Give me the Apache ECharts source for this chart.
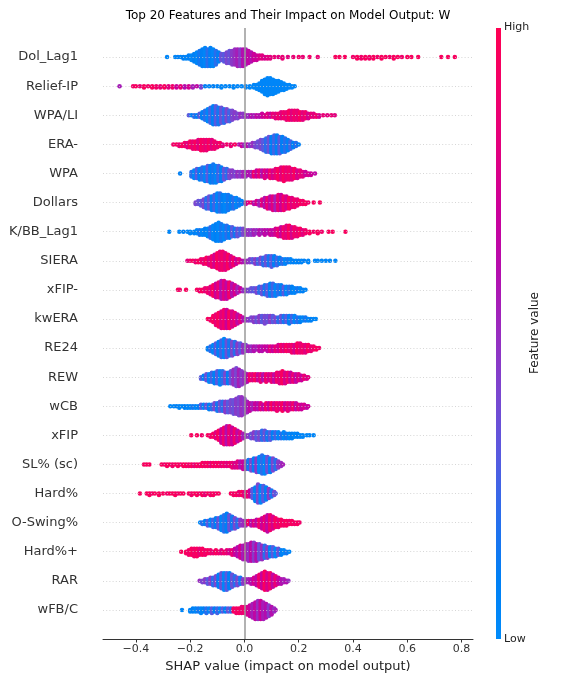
<!DOCTYPE html>
<html><head><meta charset="utf-8">
<script src="https://cdn.jsdelivr.net/npm/echarts@6/dist/echarts.min.js"></script>
<style>html,body{margin:0;padding:0;background:#fff}#c{width:576px;height:684px}</style>
</head><body><div id="c"></div>
<script>
const titleText = 'Top 20 Features and Their Impact on Model Output: W';
const features = ['Dol_Lag1','Relief-IP','WPA/LI','ERA-','WPA','Dollars','K/BB_Lag1','SIERA','xFIP-','kwERA','RE24','REW','wCB','xFIP','SL% (sc)','Hard%','O-Swing%','Hard%+','RAR','wFB/C'];
const xTicks = [-0.4,-0.2,0,0.2,0.4,0.6,0.8];
const xTickLabels = ['\u22120.4','\u22120.2','0.0','0.2','0.4','0.6','0.8'];

// Each entry: [SHAP value, feature value (0 = low, 1 = high), number of samples read at that SHAP value]
const dolLag1 = [[-0.285,0.05,1],[-0.255,0.05,1],[-0.245,0.1,1],[-0.235,0.05,1],[-0.225,0.1,2],[-0.215,0.05,2],[-0.205,0.1,3],[-0.195,0.05,4],
[-0.185,0.1,6],[-0.175,0.05,8],[-0.165,0.15,10],[-0.155,0.1,12],[-0.145,0.05,13],[-0.135,0.2,12],[-0.125,0.1,13],[-0.115,0.05,12],[-0.105,0.2,10],[-0.095,0.1,7],
[-0.085,0.35,5],[-0.075,0.3,6],[-0.065,0.4,8],[-0.055,0.35,9],[-0.045,0.45,10],[-0.035,0.5,11],[-0.025,0.55,12],[-0.015,0.45,12],[-0.005,0.6,12],[0.005,0.55,11],[0.015,0.65,9],[0.025,0.6,7],[0.035,0.7,5],
[0.045,0.7,4],[0.055,0.75,3],[0.065,0.8,3],[0.075,0.75,2],[0.085,0.8,2],[0.095,0.8,2],[0.11,0.85,1],[0.125,0.8,1],[0.14,0.85,2],[0.16,0.8,1],[0.18,0.85,1],[0.2,0.9,1],[0.215,0.85,1],[0.24,0.9,1],[0.27,0.85,1],
[0.335,0.95,1],[0.35,0.95,1],[0.37,0.95,1],
[0.4,0.9,1],[0.415,0.95,2],[0.43,0.9,2],[0.445,0.95,2],[0.46,0.9,2],[0.475,0.95,2],[0.49,0.9,1],[0.505,0.95,2],[0.52,0.95,1],[0.535,0.9,1],[0.55,0.95,2],[0.565,0.95,1],[0.58,0.9,1],[0.6,0.95,1],[0.615,0.95,1],[0.64,0.95,1],
[0.725,0.95,1],[0.75,0.95,1],[0.775,0.95,1]];

const reliefIP = [[-0.46,0.55,1],
[-0.41,0.9,1],[-0.40,0.95,1],[-0.385,0.85,1],[-0.37,0.95,2],[-0.355,0.9,1],[-0.34,0.95,2],[-0.325,0.9,2],[-0.31,0.85,2],[-0.295,0.95,2],[-0.28,0.8,2],[-0.265,0.9,2],[-0.25,0.7,2],[-0.235,0.85,2],[-0.22,0.6,2],[-0.205,0.75,2],[-0.19,0.55,2],[-0.175,0.65,1],[-0.16,0.4,2],
[-0.145,0.1,1],[-0.13,0.05,1],[-0.115,0.1,1],[-0.10,0.05,1],[-0.085,0.05,2],[-0.07,0.05,1],[-0.055,0.05,1],[-0.04,0.05,2],[-0.025,0.05,1],[-0.01,0.05,1],[0.005,0.05,2],[0.02,0.05,2],
[0.035,0.05,3],[0.045,0.05,4],[0.055,0.05,6],[0.065,0.05,9],[0.075,0.05,12],[0.085,0.05,14],[0.095,0.05,13],[0.105,0.05,12],[0.115,0.05,10],[0.125,0.05,9],[0.135,0.05,7],[0.145,0.05,6],[0.155,0.05,4],[0.165,0.05,3],[0.175,0.05,2],[0.185,0.05,1]];

const wpaLI = [[-0.205,0.3,1],[-0.195,0.1,1],[-0.185,0.2,2],[-0.175,0.1,2],[-0.165,0.3,3],
[-0.155,0.1,5],[-0.145,0.2,7],[-0.135,0.05,9],[-0.125,0.25,11],[-0.115,0.1,13],[-0.105,0.3,13],[-0.095,0.15,12],[-0.085,0.35,11],[-0.075,0.2,10],[-0.065,0.4,9],[-0.055,0.25,8],[-0.045,0.4,7],[-0.035,0.45,5],[-0.025,0.4,4],[-0.015,0.5,3],[-0.005,0.45,3],
[0.005,0.55,2],[0.015,0.5,2],[0.025,0.6,2],[0.035,0.55,2],[0.045,0.65,2],[0.055,0.6,2],[0.065,0.7,3],[0.075,0.75,2],[0.085,0.8,3],[0.095,0.7,3],[0.105,0.85,3],
[0.115,0.8,4],[0.125,0.9,4],[0.135,0.8,5],[0.145,0.9,5],[0.155,0.85,6],[0.165,0.95,7],[0.175,0.8,7],[0.185,0.9,7],[0.195,0.85,7],[0.205,0.95,6],[0.215,0.8,6],[0.225,0.9,5],[0.235,0.75,4],[0.245,0.85,3],[0.255,0.8,3],[0.265,0.9,2],[0.275,0.75,2],[0.29,0.85,1],[0.305,0.8,1],[0.32,0.85,1],[0.333,0.8,1]];

const eraMinus = [[-0.262,0.9,1],[-0.25,0.95,1],[-0.24,0.85,2],[-0.23,0.95,2],
[-0.22,0.9,3],[-0.21,0.8,4],[-0.20,0.95,5],[-0.19,0.85,6],[-0.18,0.95,6],[-0.17,0.8,7],[-0.16,0.95,8],[-0.15,0.9,8],[-0.14,0.85,8],[-0.13,0.95,7],[-0.12,0.8,7],[-0.11,0.9,6],[-0.10,0.85,4],[-0.09,0.95,3],[-0.08,0.8,2],
[-0.065,0.9,1],[-0.05,0.85,2],[-0.035,0.95,1],[-0.02,0.6,1],[-0.01,0.7,2],[0.0,0.5,2],[0.01,0.6,2],[0.02,0.45,2],[0.03,0.5,3],
[0.04,0.4,4],[0.05,0.35,5],[0.06,0.4,7],[0.07,0.3,8],[0.08,0.2,10],[0.09,0.35,11],[0.10,0.1,12],[0.11,0.25,13],[0.12,0.1,13],[0.13,0.3,12],[0.14,0.1,11],[0.15,0.2,10],[0.16,0.1,8],[0.17,0.25,6],[0.18,0.1,4],[0.19,0.2,3],[0.20,0.1,1]];

const wpa = [[-0.237,0.1,1],
[-0.195,0.2,4],[-0.185,0.05,6],[-0.175,0.3,7],[-0.165,0.1,8],[-0.155,0.2,9],[-0.145,0.05,10],[-0.135,0.3,11],[-0.125,0.1,12],[-0.115,0.15,13],[-0.105,0.05,12],[-0.095,0.25,11],[-0.085,0.1,10],[-0.075,0.35,8],[-0.065,0.2,7],[-0.055,0.4,6],
[-0.045,0.45,5],[-0.035,0.4,4],[-0.025,0.5,4],[-0.015,0.45,4],[-0.005,0.55,4],[0.005,0.5,4],[0.015,0.6,3],[0.025,0.55,4],
[0.035,0.9,4],[0.045,0.7,5],[0.055,0.85,5],[0.065,0.6,5],[0.075,0.8,6],[0.085,0.7,5],[0.095,0.9,6],[0.105,0.75,6],[0.115,0.85,7],[0.125,0.95,8],[0.135,0.8,9],[0.145,0.95,10],[0.155,0.85,9],[0.165,0.9,9],[0.175,0.8,8],[0.185,0.95,7],[0.195,0.75,6],[0.205,0.85,5],[0.215,0.8,4],[0.225,0.7,3],[0.235,0.75,2],[0.245,0.7,2],[0.26,0.65,1]];

const dollars = [[-0.18,0.4,2],[-0.17,0.35,3],[-0.16,0.3,4],[-0.15,0.4,6],[-0.14,0.2,8],[-0.13,0.35,9],[-0.12,0.1,10],[-0.11,0.25,11],[-0.10,0.05,13],[-0.09,0.2,13],[-0.08,0.1,12],[-0.07,0.05,12],[-0.06,0.15,11],[-0.05,0.1,9],[-0.04,0.2,8],[-0.03,0.05,7],[-0.02,0.15,5],[-0.01,0.1,3],
[0.005,0.7,2],[0.015,0.8,1],[0.025,0.9,1],
[0.035,0.6,2],[0.045,0.75,3],[0.055,0.55,4],[0.065,0.8,5],[0.075,0.6,7],[0.085,0.85,8],[0.095,0.65,9],[0.105,0.8,10],[0.115,0.55,10],[0.125,0.85,11],[0.135,0.7,11],[0.145,0.9,10],[0.155,0.75,9],[0.165,0.95,8],[0.175,0.8,7],[0.185,0.9,6],[0.195,0.85,5],[0.205,0.95,3],[0.215,0.9,3],[0.225,0.95,2],[0.235,0.9,1],[0.255,0.95,1],[0.278,0.95,1]];

const kbbLag1 = [[-0.277,0.05,1],[-0.24,0.05,1],[-0.225,0.1,1],[-0.21,0.05,1],[-0.2,0.05,2],
[-0.185,0.1,2],[-0.175,0.05,3],[-0.165,0.15,4],[-0.155,0.05,4],[-0.145,0.1,5],[-0.135,0.05,6],[-0.125,0.2,8],[-0.115,0.05,10],[-0.105,0.1,12],[-0.095,0.05,13],[-0.085,0.15,12],[-0.075,0.05,10],[-0.065,0.2,9],[-0.055,0.1,8],[-0.045,0.3,7],[-0.035,0.15,6],[-0.025,0.35,6],[-0.015,0.25,5],[-0.005,0.4,5],
[0.005,0.45,4],[0.015,0.5,4],[0.025,0.45,4],[0.035,0.55,4],[0.045,0.5,3],[0.055,0.6,4],[0.065,0.55,3],[0.075,0.65,4],[0.085,0.6,3],[0.095,0.7,4],[0.105,0.65,4],[0.115,0.75,5],
[0.125,0.85,6],[0.135,0.7,7],[0.145,0.9,8],[0.155,0.8,9],[0.165,0.95,9],[0.175,0.75,8],[0.185,0.9,7],[0.195,0.85,6],[0.205,0.95,5],[0.215,0.8,4],[0.225,0.9,3],[0.24,0.95,2],[0.255,0.9,1],[0.27,0.95,2],[0.285,0.9,1],[0.31,0.95,1],[0.325,0.95,1],[0.372,0.95,1]];

const siera = [[-0.21,0.8,1],[-0.2,0.9,1],[-0.19,0.95,1],[-0.18,0.85,2],[-0.17,0.95,2],
[-0.16,0.9,3],[-0.15,0.85,4],[-0.14,0.95,5],[-0.13,0.8,6],[-0.12,0.9,8],[-0.11,0.75,9],[-0.10,0.95,11],[-0.09,0.85,13],[-0.08,0.9,13],[-0.07,0.8,12],[-0.06,0.95,10],[-0.05,0.75,8],[-0.04,0.9,6],[-0.03,0.7,4],[-0.02,0.85,3],[-0.01,0.65,2],
[0.0,0.55,2],[0.01,0.5,2],[0.02,0.45,3],[0.03,0.3,3],[0.04,0.45,4],[0.05,0.25,4],[0.06,0.4,5],[0.07,0.2,6],[0.08,0.35,7],[0.09,0.15,7],[0.10,0.3,8],[0.11,0.1,7],[0.12,0.25,6],[0.13,0.1,5],[0.14,0.2,4],[0.15,0.05,4],
[0.16,0.15,3],[0.17,0.05,3],[0.18,0.1,2],[0.19,0.05,2],[0.2,0.1,2],[0.21,0.05,2],[0.22,0.1,1],[0.235,0.05,2],
[0.26,0.05,1],[0.27,0.05,1],[0.285,0.05,1],[0.3,0.05,1],[0.315,0.05,1],[0.335,0.05,1]];

const xfipMinus = [[-0.245,0.95,1],[-0.238,0.9,1],[-0.215,0.95,1],
[-0.175,0.95,1],[-0.165,0.9,2],[-0.155,0.95,2],[-0.145,0.85,3],[-0.135,0.9,4],[-0.125,0.8,6],[-0.115,0.95,8],[-0.105,0.7,10],[-0.095,0.85,11],[-0.085,0.6,13],[-0.075,0.8,13],[-0.065,0.65,12],[-0.055,0.9,11],[-0.045,0.6,9],[-0.035,0.75,7],[-0.025,0.55,5],[-0.015,0.7,3],
[-0.005,0.5,2],[0.005,0.45,2],[0.015,0.4,2],[0.025,0.35,3],[0.035,0.3,3],[0.045,0.4,4],
[0.055,0.2,5],[0.065,0.35,6],[0.075,0.15,7],[0.085,0.3,8],[0.095,0.1,9],[0.105,0.25,9],[0.115,0.05,8],[0.125,0.2,7],[0.135,0.1,7],[0.145,0.3,6],[0.155,0.05,6],[0.165,0.2,5],[0.175,0.1,5],[0.185,0.05,4],[0.195,0.15,3],[0.205,0.05,3],[0.215,0.1,2],[0.225,0.05,1]];

const kwEra = [[-0.135,0.95,1],[-0.125,0.9,2],[-0.115,0.95,5],[-0.105,0.85,8],[-0.095,0.95,10],[-0.085,0.8,12],[-0.075,0.9,13],[-0.065,0.7,13],[-0.055,0.95,12],[-0.045,0.75,11],[-0.035,0.85,9],[-0.025,0.65,7],[-0.015,0.8,5],[-0.005,0.6,3],
[0.005,0.5,2],[0.015,0.45,2],[0.025,0.4,3],[0.035,0.45,4],[0.045,0.35,4],[0.055,0.45,5],[0.065,0.3,5],[0.075,0.4,6],[0.085,0.35,5],[0.095,0.45,5],[0.105,0.3,5],[0.115,0.4,4],[0.125,0.2,4],[0.135,0.35,5],[0.145,0.15,5],[0.155,0.3,5],[0.165,0.1,6],[0.175,0.25,5],[0.185,0.05,5],[0.195,0.2,4],[0.205,0.1,4],[0.215,0.05,3],[0.225,0.15,3],[0.235,0.05,2],[0.245,0.1,2],[0.255,0.05,1],[0.263,0.05,1]];

const re24 = [[-0.135,0.1,2],[-0.125,0.2,4],[-0.115,0.05,6],[-0.105,0.3,8],[-0.095,0.1,10],[-0.085,0.25,12],[-0.075,0.05,13],[-0.065,0.35,12],[-0.055,0.15,11],[-0.045,0.4,10],[-0.035,0.2,9],[-0.025,0.45,8],[-0.015,0.3,7],[-0.005,0.5,6],[0.005,0.4,5],
[0.015,0.55,4],[0.025,0.5,4],[0.035,0.6,4],[0.045,0.55,3],[0.055,0.65,4],[0.065,0.6,4],[0.075,0.7,3],[0.085,0.65,4],[0.095,0.8,4],[0.105,0.7,4],[0.115,0.85,4],[0.125,0.75,5],
[0.135,0.9,5],[0.145,0.8,5],[0.155,0.95,5],[0.165,0.85,5],[0.175,0.9,6],[0.185,0.75,6],[0.195,0.95,7],[0.205,0.85,7],[0.215,0.9,6],[0.225,0.8,6],[0.235,0.95,5],[0.245,0.85,4],[0.255,0.9,3],[0.265,0.95,2],[0.275,0.9,1]];

const rew = [[-0.16,0.3,2],[-0.15,0.1,3],[-0.14,0.35,5],[-0.13,0.05,6],[-0.12,0.25,7],[-0.11,0.1,8],[-0.10,0.3,9],[-0.09,0.05,10],[-0.08,0.2,9],[-0.07,0.4,8],[-0.06,0.1,8],[-0.05,0.35,9],[-0.04,0.5,11],[-0.03,0.4,13],[-0.02,0.55,12],[-0.01,0.45,10],[0.0,0.5,8],[0.01,0.6,6],
[0.02,0.9,5],[0.03,0.8,5],[0.04,0.95,5],[0.05,0.7,5],[0.06,0.85,6],[0.07,0.6,5],[0.08,0.9,6],[0.09,0.75,5],[0.10,0.85,6],[0.11,0.65,6],[0.12,0.9,7],
[0.13,0.8,8],[0.14,0.95,9],[0.15,0.75,8],[0.16,0.9,7],[0.17,0.7,7],[0.18,0.85,6],[0.19,0.65,6],[0.20,0.8,5],[0.21,0.7,4],[0.22,0.85,3],[0.23,0.75,2],[0.235,0.8,1]];

const wcb = [[-0.273,0.05,1],[-0.26,0.05,1],[-0.25,0.1,1],[-0.24,0.05,2],[-0.23,0.05,1],[-0.22,0.1,2],[-0.21,0.05,2],[-0.2,0.05,2],[-0.19,0.15,2],[-0.18,0.05,2],[-0.17,0.1,2],
[-0.16,0.3,3],[-0.15,0.05,3],[-0.14,0.35,3],[-0.13,0.1,4],[-0.12,0.95,1],[-0.12,0.2,3],[-0.11,0.4,5],[-0.10,0.15,6],[-0.09,0.35,7],[-0.08,0.2,7],[-0.07,0.45,8],[-0.06,0.3,8],[-0.05,0.4,9],[-0.04,0.35,10],[-0.03,0.45,11],[-0.02,0.4,13],[-0.01,0.5,13],[0.0,0.45,11],[0.01,0.55,8],
[0.02,0.65,6],[0.03,0.55,5],[0.04,0.7,5],[0.05,0.6,5],[0.06,0.8,5],[0.07,0.65,4],[0.08,0.9,5],[0.09,0.7,5],[0.10,0.95,5],[0.11,0.75,5],[0.12,0.9,6],[0.13,0.8,5],[0.14,0.95,6],[0.15,0.7,5],[0.16,0.85,6],[0.17,0.75,5],[0.18,0.9,5],[0.19,0.65,5],[0.20,0.8,4],[0.21,0.7,4],[0.22,0.75,3],[0.23,0.65,2],[0.235,0.7,1]];

const xfip = [[-0.196,0.95,1],[-0.175,0.95,1],[-0.157,0.9,1],[-0.135,0.95,1],[-0.125,0.9,2],[-0.115,0.95,3],
[-0.105,0.8,5],[-0.095,0.95,7],[-0.085,0.7,10],[-0.075,0.9,12],[-0.065,0.6,13],[-0.055,0.85,13],[-0.045,0.7,12],[-0.035,0.9,10],[-0.025,0.65,8],[-0.015,0.8,6],[-0.005,0.55,4],
[0.005,0.5,2],[0.015,0.45,2],[0.025,0.35,4],[0.035,0.45,5],[0.045,0.3,6],[0.055,0.4,6],[0.065,0.2,7],[0.075,0.35,7],[0.085,0.15,6],[0.095,0.3,6],[0.105,0.1,5],[0.115,0.25,5],[0.125,0.05,5],[0.135,0.2,4],[0.145,0.05,5],[0.155,0.15,4],[0.165,0.05,4],[0.175,0.1,4],[0.185,0.05,3],[0.195,0.1,3],[0.205,0.05,2],[0.215,0.05,2],[0.23,0.05,1],[0.24,0.05,1],[0.255,0.05,1]];

const slSc = [[-0.37,0.95,1],[-0.36,0.95,1],[-0.35,0.95,1],
[-0.305,0.95,1],[-0.295,0.9,1],[-0.285,0.95,2],[-0.275,0.95,1],[-0.265,0.9,2],[-0.255,0.95,1],[-0.245,0.95,2],[-0.235,0.9,1],[-0.225,0.95,2],[-0.215,0.95,2],[-0.205,0.9,2],[-0.195,0.95,2],[-0.185,0.85,2],[-0.175,0.95,2],[-0.165,0.9,2],
[-0.155,0.95,3],[-0.145,0.9,3],[-0.135,0.95,3],[-0.125,0.85,3],[-0.115,0.95,3],[-0.105,0.9,3],[-0.095,0.95,3],[-0.085,0.85,3],[-0.075,0.9,3],[-0.065,0.8,3],[-0.055,0.9,3],[-0.045,0.85,4],
[-0.035,0.75,4],[-0.025,0.8,5],[-0.015,0.6,5],[-0.005,0.7,6],[0.005,0.5,6],[0.015,0.15,7],
[0.025,0.4,8],[0.035,0.1,9],[0.045,0.45,10],[0.055,0.05,11],[0.065,0.2,13],[0.075,0.05,12],[0.085,0.35,11],[0.095,0.1,10],[0.105,0.4,9],[0.115,0.2,7],[0.125,0.45,5],[0.135,0.5,3],[0.142,0.55,1]];

const hardPct = [[-0.385,0.95,1],
[-0.36,0.95,1],[-0.35,0.95,2],[-0.34,0.9,1],[-0.33,0.95,1],[-0.315,0.95,2],[-0.3,0.95,1],[-0.285,0.9,1],[-0.275,0.95,1],
[-0.265,0.95,1],[-0.255,0.95,2],[-0.245,0.9,1],[-0.235,0.95,1],[-0.225,0.95,1],
[-0.205,0.95,1],[-0.195,0.9,2],[-0.185,0.95,1],[-0.175,0.95,2],[-0.165,0.9,1],[-0.155,0.95,2],[-0.145,0.85,2],[-0.135,0.95,1],[-0.125,0.9,2],[-0.115,0.95,2],[-0.105,0.9,1],[-0.095,0.95,1],
[-0.05,0.95,1],[-0.04,0.9,2],[-0.03,0.95,2],[-0.02,0.85,3],[-0.01,0.95,3],[0.0,0.8,4],[0.01,0.9,4],[0.02,0.7,5],
[0.03,0.3,7],[0.04,0.1,10],[0.05,0.4,13],[0.06,0.05,12],[0.07,0.3,11],[0.08,0.1,9],[0.09,0.45,7],[0.10,0.15,5],[0.11,0.4,3],[0.115,0.3,1]];

const oSwing = [[-0.163,0.05,1],[-0.155,0.2,2],[-0.145,0.1,3],[-0.135,0.3,4],[-0.125,0.05,5],[-0.115,0.25,6],[-0.105,0.1,7],[-0.095,0.35,8],[-0.085,0.05,10],[-0.075,0.2,12],[-0.065,0.1,13],[-0.055,0.35,11],[-0.045,0.15,9],[-0.035,0.4,8],[-0.025,0.2,6],[-0.015,0.45,5],[-0.005,0.5,4],
[0.005,0.55,4],[0.015,0.95,3],[0.025,0.6,4],[0.035,0.8,4],[0.045,0.65,5],[0.055,0.9,6],[0.065,0.7,8],[0.075,0.85,10],[0.085,0.65,12],[0.095,0.9,11],[0.105,0.75,9],
[0.115,0.95,7],[0.125,0.85,6],[0.135,0.95,5],[0.145,0.9,4],[0.155,0.95,4],[0.165,0.9,3],[0.175,0.95,3],[0.185,0.9,2],[0.195,0.95,2],[0.203,0.9,1]];

const hardPctPlus = [[-0.233,0.95,1],[-0.215,0.95,2],[-0.205,0.9,4],[-0.195,0.95,5],[-0.185,0.9,6],[-0.175,0.95,6],[-0.165,0.85,5],[-0.155,0.95,5],[-0.145,0.9,4],[-0.135,0.95,3],
[-0.125,0.9,3],[-0.115,0.85,2],[-0.105,0.95,3],[-0.095,0.9,2],[-0.085,0.8,3],[-0.075,0.9,2],[-0.065,0.85,3],[-0.055,0.75,3],[-0.045,0.85,4],
[-0.035,0.7,5],[-0.025,0.6,7],[-0.015,0.75,9],[-0.005,0.55,10],[0.005,0.7,11],[0.015,0.5,12],[0.025,0.65,13],[0.035,0.45,13],[0.045,0.6,12],[0.055,0.35,11],[0.065,0.5,10],[0.075,0.2,9],[0.085,0.45,8],[0.095,0.1,7],[0.105,0.3,7],[0.115,0.05,6],[0.125,0.35,5],[0.135,0.1,4],[0.145,0.05,3],[0.155,0.15,2],[0.165,0.05,1]];

const rar = [[-0.165,0.5,1],[-0.155,0.4,2],[-0.145,0.45,3],[-0.135,0.3,4],[-0.125,0.45,5],[-0.115,0.2,6],[-0.105,0.4,7],[-0.095,0.1,9],[-0.085,0.35,11],[-0.075,0.05,12],[-0.065,0.3,12],[-0.055,0.1,11],[-0.045,0.35,9],[-0.035,0.2,7],[-0.025,0.4,6],[-0.015,0.15,5],[-0.005,0.45,4],
[0.005,0.5,3],[0.015,0.55,3],[0.025,0.6,4],[0.035,0.75,5],[0.045,0.65,7],[0.055,0.9,9],[0.065,0.7,11],[0.075,0.95,13],[0.085,0.75,12],[0.095,0.9,11],[0.105,0.65,9],[0.115,0.85,7],[0.125,0.7,5],[0.135,0.6,4],[0.145,0.55,3],[0.155,0.6,2],[0.162,0.5,1]];

const wfbC = [[-0.23,0.05,1],[-0.2,0.05,2],[-0.19,0.1,3],[-0.18,0.05,3],[-0.17,0.15,3],[-0.16,0.05,4],[-0.15,0.1,3],[-0.14,0.2,4],[-0.13,0.05,3],[-0.12,0.3,4],[-0.11,0.1,3],[-0.10,0.25,4],[-0.09,0.05,3],[-0.08,0.3,3],[-0.07,0.1,3],[-0.06,0.35,3],[-0.05,0.2,3],
[-0.04,0.95,3],[-0.03,0.9,4],[-0.02,0.95,4],[-0.01,0.85,5],[0.0,0.9,5],[0.01,0.75,6],
[0.02,0.7,8],[0.03,0.55,10],[0.04,0.65,12],[0.05,0.5,13],[0.06,0.7,13],[0.07,0.55,12],[0.08,0.6,10],[0.09,0.45,8],[0.10,0.6,6],[0.11,0.5,3],[0.115,0.55,1]];

const featureData = [dolLag1, reliefIP, wpaLI, eraMinus, wpa, dollars, kbbLag1, siera, xfipMinus, kwEra, re24, rew, wcb, xfip, slSc, hardPct, oSwing, hardPctPlus, rar, wfbC];

// SHAP red-blue colormap (low -> high)
const cmap = ['#008bfa','#0080f5','#2a6eec','#585ae0','#7a47d0','#982dc0','#b40eae','#cb009a','#e2007f','#f2006a','#ff0052'];

const X_MIN = -0.521, X_MAX = 0.842, Y_MIN = -1, Y_MAX = 20;

// beeswarm layout (same idea as shap: stack samples sharing a bin, alternate up/down)
function swarm(groups, row) {
  const pts = [];
  groups.forEach(g => { for (let k = 0; k < g[2]; k++) pts.push({ x: g[0], fv: g[1] }); });
  pts.sort((a, b) => a.x - b.x);
  const bins = new Map();
  let maxOff = 0;
  pts.forEach(p => {
    const key = Math.round(p.x * 200);
    const layer = bins.get(key) || 0;
    bins.set(key, layer + 1);
    p.off = Math.ceil(layer / 2) * (layer % 2 ? 1 : -1);
    maxOff = Math.max(maxOff, Math.abs(p.off));
  });
  const scale = 0.9 * 0.4 / (maxOff + 1);
  return pts.map(p => [p.x, row + p.off * scale, p.fv]);
}

let points = [];
featureData.forEach((g, i) => { points = points.concat(swarm(g, i)); });

const FONT = 'DejaVu Sans';
const chart = echarts.init(document.getElementById('c'), null, { renderer: 'canvas' });
chart.setOption({
  animation: false,
  backgroundColor: '#ffffff',
  title: {
    text: titleText, left: 'center', top: 10, padding: 0,
    textStyle: { fontFamily: FONT, fontSize: 12, fontWeight: 'normal', color: '#000' }
  },
  grid: { left: 103, right: 103, top: 28, bottom: 45, containLabel: false },
  xAxis: {
    type: 'value', min: X_MIN, max: X_MAX, position: 'bottom',
    axisLine: { show: true, onZero: false, lineStyle: { color: '#333', width: 1 } },
    axisTick: { show: true, customValues: xTicks, length: 3.5, lineStyle: { color: '#333' } },
    axisLabel: {
      customValues: xTicks, margin: 5, fontFamily: FONT, fontSize: 11, color: '#333',
      formatter: v => { const i = xTicks.findIndex(t => Math.abs(t - v) < 1e-9); return i >= 0 ? xTickLabels[i] : ''; }
    },
    splitLine: { show: false },
    name: 'SHAP value (impact on model output)', nameLocation: 'middle', nameGap: 20,
    nameTextStyle: { fontFamily: FONT, fontSize: 13, color: '#222' }
  },
  yAxis: {
    type: 'value', min: Y_MIN, max: Y_MAX, interval: 1, inverse: true,
    axisLine: { show: false, onZero: false }, axisTick: { show: false }, splitLine: { show: false },
    axisLabel: {
      margin: 25, fontFamily: FONT, fontSize: 13, color: '#333',
      formatter: v => (v >= 0 && v < features.length) ? features[v] : ''
    }
  },
  visualMap: {
    show: false, type: 'continuous', dimension: 2, min: 0, max: 1, seriesIndex: 2,
    inRange: { color: cmap }
  },
  series: [
    {
      type: 'scatter', data: [], z: 1, silent: true,
      markLine: {
        silent: true, symbol: 'none', label: { show: false }, animation: false,
        lineStyle: { color: '#cccccc', width: 0.8, type: [1, 2.2] },
        data: features.map((f, i) => [{ coord: [X_MIN, i] }, { coord: [X_MAX, i] }])
      }
    },
    {
      type: 'scatter', data: [], z: 1, silent: true,
      markLine: {
        silent: true, symbol: 'none', label: { show: false }, animation: false,
        lineStyle: { color: '#999999', width: 1.5, type: 'solid' },
        data: [[{ coord: [0, Y_MIN] }, { coord: [0, Y_MAX] }]]
      }
    },
    {
      type: 'scatter', data: points, z: 2, symbolSize: 4.5, silent: true,
      itemStyle: { opacity: 1 }
    }
  ],
  graphic: [
    {
      type: 'rect', left: 496, top: 28, shape: { width: 5, height: 611 }, silent: true,
      style: { fill: new echarts.graphic.LinearGradient(0, 1, 0, 0, cmap.map((c, i) => ({ offset: i / (cmap.length - 1), color: c }))) }
    },
    { type: 'text', x: 504, y: 27, silent: true, style: { text: 'High', fontFamily: FONT, fontSize: 11, fill: '#222', verticalAlign: 'middle' } },
    { type: 'text', x: 504, y: 639, silent: true, style: { text: 'Low', fontFamily: FONT, fontSize: 11, fill: '#222', verticalAlign: 'middle' } },
    { type: 'text', x: 535, y: 333, rotation: Math.PI / 2, silent: true, style: { text: 'Feature value', fontFamily: FONT, fontSize: 12, fill: '#222', align: 'center', verticalAlign: 'middle' } }
  ]
});
</script></body></html>
